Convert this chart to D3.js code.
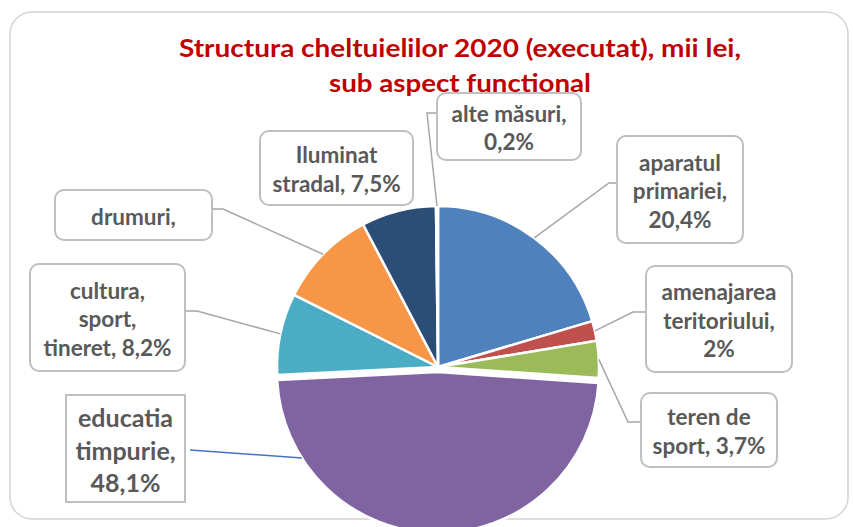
<!DOCTYPE html>
<html><head><meta charset="utf-8">
<script src="https://cdn.jsdelivr.net/npm/d3@7"></script>
<style>html,body{margin:0;padding:0;background:#fff;}svg{display:block;}</style>
</head><body>
<svg id="chart" width="853" height="527"></svg>
<script>
// ---- data ----
const titleLines = ["Structura cheltuielilor 2020 (executat), mii lei,", "sub aspect functional"];
const categories = ["aparatul primariei", "amenajarea teritoriului", "teren de sport", "educatia timpurie",
  "cultura, sport, tineret", "drumuri", "Iluminat stradal", "alte măsuri"];
const values = [20.4, 2.0, 3.7, 48.1, 8.2, 9.9, 7.5, 0.2];
const labelLines = [
  ["aparatul", "primariei,", "20,4%"],
  ["amenajarea", "teritoriului,", "2%"],
  ["teren de", "sport, 3,7%"],
  ["educatia", "timpurie,", "48,1%"],
  ["cultura,", "sport,", "tineret, 8,2%"],
  ["drumuri,"],
  ["Iluminat", "stradal, 7,5%"],
  ["alte măsuri,", "0,2%"]
];
const colors = ["#4F81BD", "#C0504D", "#9BBB59", "#8064A2", "#4BACC6", "#F79646", "#2C4D75", "#C0504D"];

// ---- layout ----
const W = 853, H = 527;
const cx = 438, cy = 367, R = 161;
const explode = { "educatia timpurie": 5 };
const boxes = {
  "aparatul primariei":      { x0: 617, y0: 136, x1: 743, y1: 243, rx: 9, lead: [[617,183],[609,183]], t: 0.5 },
  "amenajarea teritoriului": { x0: 646, y0: 266, x1: 792, y1: 372, rx: 9, lead: [[646,312],[633,312]], t: 0.5 },
  "teren de sport":          { x0: 641, y0: 393, x1: 777, y1: 467, rx: 9, lead: [[641,422],[628,422]], t: 0.5 },
  "educatia timpurie":       { x0: 66,  y0: 395, x1: 185, y1: 502, rx: 0, lead: [[190,450]], t: 0.83, big: true, leadColor: "#4472C4" },
  "cultura, sport, tineret": { x0: 30,  y0: 264, x1: 185, y1: 371, rx: 9, lead: [[185,311],[197,311]], t: 0.5 },
  "drumuri":                 { x0: 55,  y0: 190, x1: 212, y1: 240, rx: 9, lead: [[212,209],[223,209]], t: 0.5 },
  "Iluminat stradal":        { x0: 260, y0: 131, x1: 413, y1: 205, rx: 9, lead: null },
  "alte măsuri":             { x0: 437, y0: 93,  x1: 581, y1: 160, rx: 9, lead: [[437,113],[427,113]], t: 0.5 }
};

const svg = d3.select("#chart");
const font = "Lato, 'Open Sans', sans-serif";

// card
svg.append("rect").attr("x", 10).attr("y", 12).attr("width", 838).attr("height", 507)
  .attr("rx", 22).attr("fill", "#fff").attr("stroke", "#D4D4D4").attr("stroke-width", 1.5);

const data = categories.map((c, i) => ({ name: c, value: values[i], color: colors[i], lines: labelLines[i] }));
const pie = d3.pie().value(d => d.value).sort(null);
const arcs = pie(data);
const arc = d3.arc().innerRadius(0).outerRadius(R);

const g = svg.append("g").attr("transform", `translate(${cx},${cy})`);
g.selectAll("path").data(arcs).join("path")
  .attr("d", arc)
  .attr("fill", d => d.data.color)
  .attr("stroke", "#fff").attr("stroke-width", 2.5).attr("stroke-linejoin", "round")
  .attr("transform", d => {
    const e = explode[d.data.name] || 0;
    const m = (d.startAngle + d.endAngle) / 2;
    return `translate(${e * Math.sin(m)},${-e * Math.cos(m)})`;
  });

// leaders
arcs.forEach(d => {
  const b = boxes[d.data.name];
  if (!b || !b.lead) return;
  const e = explode[d.data.name] || 0;
  const m = (d.startAngle + d.endAngle) / 2;
  const a = d.startAngle + (d.endAngle - d.startAngle) * b.t;
  const px = cx + e * Math.sin(m) + R * Math.sin(a);
  const py = cy - e * Math.cos(m) - R * Math.cos(a);
  const pts = b.lead.concat([[px, py]]);
  svg.append("path").attr("d", d3.line()(pts)).attr("fill", "none")
    .attr("stroke", b.leadColor || "#A6A6A6").attr("stroke-width", 1.5);
});

// label boxes
arcs.forEach(d => {
  const b = boxes[d.data.name];
  svg.append("rect").attr("x", b.x0).attr("y", b.y0).attr("width", b.x1 - b.x0).attr("height", b.y1 - b.y0)
    .attr("rx", b.rx).attr("fill", "#fff").attr("stroke", "#BFBFBF").attr("stroke-width", 2);
  const lh = b.big ? 32.5 : 28.5;
  const fs = b.big ? 25 : 22.5;
  const mx = (b.x0 + b.x1) / 2, my = (b.y0 + b.y1) / 2;
  const n = d.data.lines.length;
  d.data.lines.forEach((t, i) => {
    svg.append("text").attr("x", mx).attr("y", my + (i - (n - 1) / 2) * lh + 1)
      .attr("text-anchor", "middle").attr("dominant-baseline", "central")
      .attr("font-family", font).attr("font-weight", 700).attr("font-size", fs)
      .attr("fill", "#595959").text(t);
  });
});

// title
const titleWidths = [562, 262];
titleLines.forEach((t, i) => {
  svg.append("text").attr("x", 460).attr("y", 56.5 + i * 35)
    .attr("text-anchor", "middle")
    .attr("textLength", titleWidths[i]).attr("lengthAdjust", "spacingAndGlyphs")
    .attr("font-family", font).attr("font-weight", 700).attr("font-size", 24)
    .attr("fill", "#C00000").text(t);
});
</script>
</body></html>
